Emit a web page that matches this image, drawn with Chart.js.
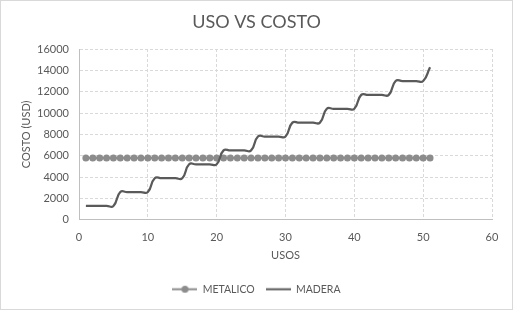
<!DOCTYPE html>
<html>
<head>
<meta charset="utf-8">
<script src="https://cdn.jsdelivr.net/npm/chart.js@4"></script>
<style>
  html, body { margin: 0; padding: 0; background: #fff; }
  #wrap { width: 513px; height: 310px; }
</style>
</head>
<body>
<div id="wrap"><canvas id="usoChart"></canvas></div>
<script>
// data
const usos = [1, 2, 3, 4, 5, 6, 7, 8, 9, 10, 11, 12, 13, 14, 15, 16, 17, 18, 19, 20,
  21, 22, 23, 24, 25, 26, 27, 28, 29, 30, 31, 32, 33, 34, 35, 36, 37, 38, 39, 40,
  41, 42, 43, 44, 45, 46, 47, 48, 49, 50, 51];
const metalico = [5800, 5800, 5800, 5800, 5800, 5800, 5800, 5800, 5800, 5800,
  5800, 5800, 5800, 5800, 5800, 5800, 5800, 5800, 5800, 5800,
  5800, 5800, 5800, 5800, 5800, 5800, 5800, 5800, 5800, 5800,
  5800, 5800, 5800, 5800, 5800, 5800, 5800, 5800, 5800, 5800,
  5800, 5800, 5800, 5800, 5800, 5800, 5800, 5800, 5800, 5800, 5800];
const madera = [1300, 1300, 1300, 1300, 1300, 2600, 2600, 2600, 2600, 2600,
  3900, 3900, 3900, 3900, 3900, 5200, 5200, 5200, 5200, 5200,
  6500, 6500, 6500, 6500, 6500, 7800, 7800, 7800, 7800, 7800,
  9100, 9100, 9100, 9100, 9100, 10400, 10400, 10400, 10400, 10400,
  11700, 11700, 11700, 11700, 11700, 13000, 13000, 13000, 13000, 13000, 14300];
const xTicks = [0, 10, 20, 30, 40, 50, 60];
const yTicks = [0, 2000, 4000, 6000, 8000, 10000, 12000, 14000, 16000];

const textColor = '#595959';
const fontFam = 'Lato, "Liberation Sans", sans-serif';

// legend symbols (line with dot, plain line)
function legendSymbol(withDot, color) {
  const c = document.createElement('canvas');
  c.width = 25; c.height = 9;
  const g = c.getContext('2d');
  g.strokeStyle = color;
  g.lineWidth = 2;
  g.beginPath(); g.moveTo(0, 4.5); g.lineTo(25, 4.5); g.stroke();
  if (withDot) {
    g.fillStyle = color;
    g.beginPath(); g.arc(12.5, 4.5, 3.5, 0, Math.PI * 2); g.fill();
  }
  return c;
}

const toPoints = (xs, ys) => xs.map((x, i) => ({x: x, y: ys[i]}));

// white background + light chart border
const chartFrame = {
  id: 'chartFrame',
  beforeDraw(chart) {
    const {ctx, width, height} = chart;
    ctx.save();
    ctx.fillStyle = '#fff';
    ctx.fillRect(0, 0, width, height);
    ctx.strokeStyle = '#d9d9d9';
    ctx.lineWidth = 1;
    ctx.strokeRect(0.5, 0.5, width - 1, height - 1);
    ctx.restore();
  }
};

new Chart(document.getElementById('usoChart'), {
  type: 'scatter',
  data: {
    datasets: [{
      label: 'METALICO',
      data: toPoints(usos, metalico),
      showLine: true,
      borderColor: '#8c8c8c',
      backgroundColor: '#8c8c8c',
      borderWidth: 2,
      pointRadius: 3.5,
      pointBorderWidth: 0,
      pointStyle: 'circle',
      order: 2
    }, {
      label: 'MADERA',
      data: toPoints(usos, madera),
      showLine: true,
      borderColor: '#5a5a5a',
      backgroundColor: '#5a5a5a',
      borderWidth: 2.25,
      pointRadius: 0,
      tension: 0.5,
      order: 1
    }]
  },
  options: {
    responsive: true,
    maintainAspectRatio: false,
    animation: false,
    layout: {padding: {left: 0, right: 0, top: 0, bottom: 5.5}},
    plugins: {
      title: {
        display: true,
        text: 'USO VS COSTO',
        color: textColor,
        font: {family: fontFam, size: 18, weight: 'normal'},
        padding: {top: 11, bottom: 16.4}
      },
      legend: {
        display: true,
        position: 'bottom',
        labels: {
          usePointStyle: true,
          pointStyleWidth: 25,
          padding: 11,
          color: textColor,
          font: {family: fontFam, size: 10.5},
          generateLabels(chart) {
            return chart.data.datasets.map((ds, i) => ({
              text: ds.label,
              fontColor: textColor,
              pointStyle: legendSymbol(i === 0, ds.borderColor),
              datasetIndex: i,
              hidden: false,
              lineWidth: 0
            }));
          }
        }
      },
      tooltip: {enabled: false}
    },
    scales: {
      x: {
        type: 'linear',
        min: 0,
        max: 60,
        afterBuildTicks(scale) { scale.ticks = xTicks.map(v => ({value: v})); },
        afterFit(scale) { scale.height = 53.2; },
        ticks: {color: textColor, font: {family: fontFam, size: 11}, padding: 11,
          callback: v => String(v)},
        grid: {color: '#d9d9d9', drawTicks: false},
        border: {color: '#bfbfbf', width: 1, dash: [3, 2]},
        title: {
          display: true,
          text: 'USOS',
          color: textColor,
          font: {family: fontFam, size: 11},
          padding: {top: 0, bottom: 11}
        }
      },
      y: {
        type: 'linear',
        min: 0,
        max: 16000,
        afterBuildTicks(scale) { scale.ticks = yTicks.map(v => ({value: v})); },
        afterFit(scale) { scale.width = 79; },
        ticks: {color: textColor, font: {family: fontFam, size: 11}, padding: 10,
          callback: v => String(v)},
        grid: {color: '#d9d9d9', drawTicks: false},
        border: {color: '#bfbfbf', width: 1, dash: [3, 2]},
        title: {
          display: true,
          text: 'COSTO (USD)',
          color: textColor,
          font: {family: fontFam, size: 11},
          padding: {top: 20, bottom: 0}
        }
      },
      // empty right-hand spacer so title/legend centre on the whole canvas
      yRight: {
        type: 'linear',
        position: 'right',
        min: 0,
        max: 16000,
        afterFit(scale) { scale.width = 21; },
        ticks: {display: false},
        grid: {drawOnChartArea: false, drawTicks: false},
        border: {display: false}
      }
    }
  },
  plugins: [chartFrame]
});
</script>
</body>
</html>
